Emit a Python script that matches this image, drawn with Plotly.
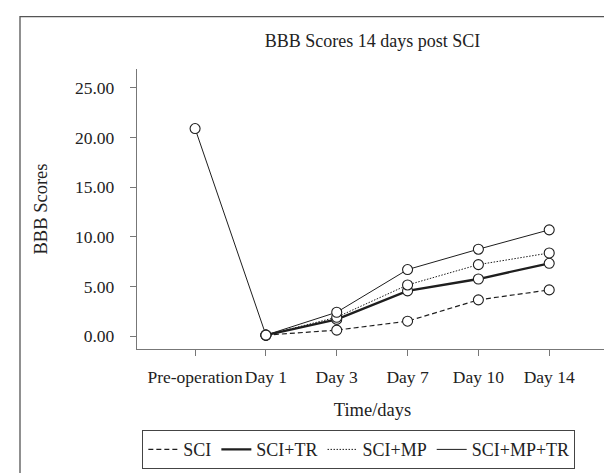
import plotly.graph_objects as go

categories = ["Pre-operation", "Day 1", "Day 3", "Day 7", "Day 10", "Day 14"]
sci = [None, 0.1, 0.6, 1.5, 3.65, 4.65]
sci_tr = [None, 0.1, 1.68, 4.55, 5.75, 7.33]
sci_mp = [None, 0.1, 1.9, 5.15, 7.2, 8.37]
sci_mp_tr = [20.9, 0.1, 2.4, 6.7, 8.75, 10.7]
series_names = ["SCI", "SCI+TR", "SCI+MP", "SCI+MP+TR"]
y_ticks = [0, 5, 10, 15, 20, 25]

ink = "#1e1e1e"
styles = [
    dict(color=ink, width=1.2, dash="5px,3px"),
    dict(color=ink, width=2.3),
    dict(color=ink, width=1.0, dash="1.5px,1.5px"),
    dict(color=ink, width=1.0),
]

FONT = "Liberation Serif, Times New Roman, serif"
font = dict(family=FONT, size=17.5, color="#222")
tfont = dict(family=FONT, size=18.5, color="#222")
fig = go.Figure()
for name, vals, st in zip(series_names, [sci, sci_tr, sci_mp, sci_mp_tr], styles):
    fig.add_trace(go.Scatter(
        x=categories, y=vals, mode="lines+markers", name=name,
        line=st, showlegend=False, connectgaps=False,
        marker=dict(symbol="circle", size=10, color="white",
                    line=dict(color=ink, width=1.1)),
    ))
for name, st in zip(series_names, styles):
    fig.add_trace(go.Scatter(x=[None], y=[None], mode="lines", name=name,
                             line=st, showlegend=True))

fig.update_layout(
    width=612, height=473,
    margin=dict(l=129, r=12, t=61, b=129),
    paper_bgcolor="white", plot_bgcolor="white",
    font=font,
    title=dict(text="BBB Scores 14 days post SCI", x=0.5, xref="paper",
               y=1 - 33 / 473, yref="container", yanchor="middle",
               font=dict(family=FONT, size=18, color="#222")),
    xaxis=dict(type="category", categoryorder="array", categoryarray=categories,
               range=[-0.82, 5.83], showline=True, linecolor="#777", linewidth=1.3,
               ticks="outside", ticklen=6, tickcolor="#777", tickwidth=1.3,
               showgrid=False, zeroline=False, ticklabelstandoff=6, tickangle=0,
               automargin=False, tickfont=font,
               title=dict(text="Time/days", standoff=16, font=tfont)),
    yaxis=dict(range=[-1.3, 26.9], tickvals=y_ticks, tickformat=".2f",
               showline=True, linecolor="#777", linewidth=1.3,
               ticks="outside", ticklen=6, tickcolor="#777", tickwidth=1.3,
               showgrid=False, zeroline=False, ticklabelstandoff=12,
               automargin=False, tickfont=font,
               title=dict(text="BBB Scores", standoff=22, font=tfont)),
    legend=dict(orientation="h", x=0.471, xanchor="center", y=-0.29, yanchor="top",
                bordercolor="#444", borderwidth=1, bgcolor="white",
                font=dict(family=FONT, size=18, color="#222"),
                itemwidth=30, tracegroupgap=0),
    shapes=[dict(type="rect", xref="paper", yref="paper",
                 x0=(12 - 129) / 471, x1=(620 - 129) / 471,
                 y0=(344 - 480) / 283, y1=(344 - 8) / 283,
                 line=dict(color="#555", width=1.3), layer="below")],
)

fig.write_html("out.html")
